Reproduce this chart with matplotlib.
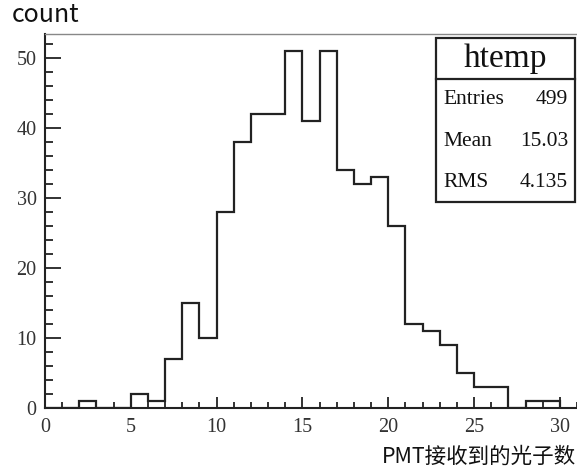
import numpy as np
import matplotlib
matplotlib.use("Agg")
import matplotlib.pyplot as plt
from matplotlib.patches import Rectangle
from matplotlib.lines import Line2D
from matplotlib.ticker import MultipleLocator

# histogram contents, 1 photon per bin, 0..30
edges = np.arange(0, 31)
counts = [0, 0, 1, 0, 0, 2, 1, 7, 15, 10,
          28, 38, 42, 42, 51, 41, 51, 34, 32, 33,
          26, 12, 11, 9, 5, 3, 3, 0, 1, 1]

stat_names = ["Entries", "Mean", "RMS"]
stat_values = ["499", "15.03", "4.135"]
title = "htemp"
xlabel = "PMT接收到的光子数"
ylabel = "count"

W, H = 577, 472
fig = plt.figure(figsize=(W / 100, H / 100), dpi=100)

def fx(px):
    return px / W

def fy(py):
    return 1 - py / H

ax = fig.add_axes([fx(45), fy(408), fx(577) - fx(45), fy(34) - fy(408)])
ax.stairs(counts, edges, color="#222222", lw=1.6)
ax.set_xlim(0, 31)
ax.set_ylim(0, 53.5)

serif = "Liberation Serif"
ax.xaxis.set_major_locator(MultipleLocator(5))
ax.xaxis.set_minor_locator(MultipleLocator(1))
ax.yaxis.set_major_locator(MultipleLocator(10))
ax.yaxis.set_minor_locator(MultipleLocator(2))
ax.tick_params(axis="x", which="major", direction="in", length=8, width=1.3,
               color="#222222", pad=7, labelsize=14.5)
ax.tick_params(axis="x", which="minor", direction="in", length=4, width=1.3,
               color="#222222")
ax.tick_params(axis="y", which="major", direction="in", length=11.5, width=1.3,
               color="#222222", pad=6, labelsize=14.5)
ax.tick_params(axis="y", which="minor", direction="in", length=6, width=1.3,
               color="#222222")
for lab in ax.get_xticklabels() + ax.get_yticklabels():
    lab.set_family(serif)
    lab.set_color("#333333")

ax.spines["right"].set_visible(False)
ax.spines["top"].set_color("#888888")
ax.spines["top"].set_linewidth(1.0)
ax.spines["left"].set_color("#222222")
ax.spines["bottom"].set_color("#222222")
ax.spines["left"].set_linewidth(1.5)
ax.spines["bottom"].set_linewidth(1.5)

cjk = ["Noto Sans CJK SC", "DejaVu Sans"]
fig.text(fx(12), fy(15), ylabel, family=cjk, fontsize=18, va="center", ha="left",
         color="#111111")
fig.text(fx(576), fy(457), xlabel, family=cjk, fontsize=15.5, va="center", ha="right",
         color="#111111")

# stats box
bx0, bx1, by0, by1, bdiv = 436, 575, 38, 202, 79
fig.patches.append(Rectangle((fx(bx0), fy(by1)), fx(bx1) - fx(bx0), fy(by0) - fy(by1),
                             transform=fig.transFigure, facecolor="white",
                             edgecolor="#222222", lw=1.6, zorder=5))
fig.lines.append(Line2D([fx(bx0), fx(bx1)], [fy(bdiv), fy(bdiv)],
                        transform=fig.transFigure, color="#222222", lw=1.6, zorder=6))
fig.text(fx((bx0 + bx1) / 2), fy(59), title, family=serif, fontsize=24,
         ha="center", va="center", color="#111111", zorder=7)
for i, (n, v) in enumerate(zip(stat_names, stat_values)):
    yy = [99, 141, 182][i]
    fig.text(fx(443), fy(yy), n, family=serif, fontsize=15.5, ha="left",
             va="center", color="#111111", zorder=7)
    fig.text(fx(568), fy(yy), v, family=serif, fontsize=15.5, ha="right",
             va="center", color="#111111", zorder=7)

fig.savefig("out.png", dpi=100)
